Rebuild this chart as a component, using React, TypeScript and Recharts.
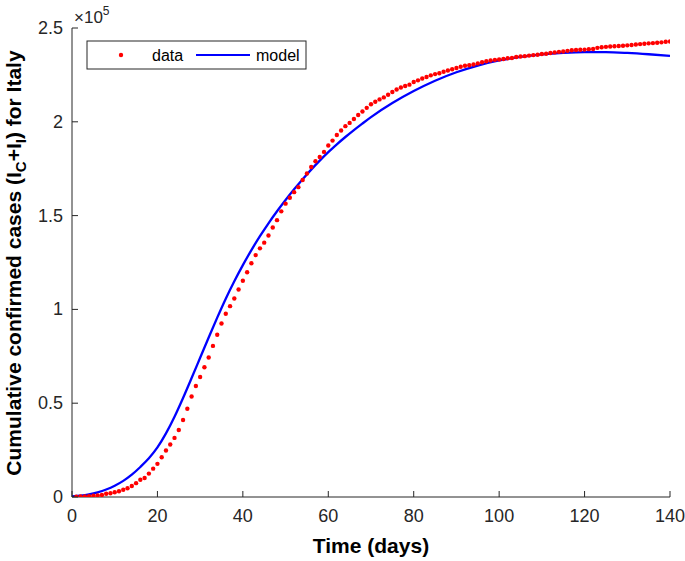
import { ComposedChart, Line, Scatter, XAxis, YAxis } from 'recharts'

// reported cumulative cases, one value per day starting at day 1
const CASES = [
  155, 229, 322, 453, 655, 888, 1128, 1694, 2036, 2502,
  3089, 3858, 4636, 5883, 7375, 9172, 10149, 12462, 15113, 17660,
  21157, 24747, 27980, 31506, 35713, 41035, 47021, 53578, 59138, 63927,
  69176, 74386, 80539, 86498, 92472, 97689, 101739, 105792, 110574, 115242,
  119827, 124632, 128948, 132547, 135586, 139422, 143626, 147577, 152271, 156363,
  159516, 162488, 165155, 168941, 172434, 175925, 178972, 181228, 183957, 187327,
  189973, 192994, 195351, 197675, 199414, 201505, 203591, 205463, 207428, 209328,
  210717, 211938, 213013, 214457, 215858, 217185, 218268, 219070, 219814, 221216,
  222104, 223096, 223885, 224760, 225435, 225886, 226699, 227364, 228006, 228658,
  229327, 229858, 230158, 230555, 231139, 231732, 232248, 232664, 233019, 233197,
  233515, 233836, 234013, 234531, 234801, 234998, 235278, 235561, 235763, 236142,
  236305, 236651, 236989, 237290, 237500, 237828, 238159, 238300, 238400, 238499,
  238720, 238833, 239410, 239706, 239961, 240136, 240310, 240436, 240578, 240760,
  240961, 241184, 241419, 241611, 241819, 241956, 242149, 242363, 242639, 242827,
]

// fitted model curve, read at a coarser step
const MODEL_DAYS = [
  0, 2, 4, 6, 8, 10, 12, 14, 16, 18, 20, 22, 24, 26, 28, 30, 32, 34, 36, 38, 40,
  42, 44, 46, 48, 50, 52, 54, 56, 58, 60, 62, 64, 66, 68, 70,
  75, 80, 85, 90, 95, 100, 105, 110, 115, 120, 125, 130, 135, 140,
]
const MODEL_CASES = [
  300, 700, 1400, 2500, 4000, 6000, 8600, 11900, 16000, 20600, 26400, 33900, 42800,
  52800, 63400, 74200, 85000, 95600, 105700, 115000, 123600,
  131600, 139000, 145900, 152300, 158300, 164000, 169400, 174500, 179300, 183800,
  188000, 191900, 195600, 199100, 202500,
  210000, 216400, 221900, 226400, 230000, 232700, 234600, 235900, 236700, 237100,
  237100, 236700, 236000, 235100,
]

const X_TICKS = [0, 20, 40, 60, 80, 100, 120, 140]
const Y_TICKS = [0, 50000, 100000, 150000, 200000, 250000]

const dataRows = CASES.map((v, i) => ({ day: i + 1, cases: v }))
const modelRows = MODEL_DAYS.map((d, i) => ({ day: d, model: MODEL_CASES[i] }))

const FONT = '"Liberation Sans", Arial, Helvetica, sans-serif'
const AXIS = '#262626'
const W = 685
const H = 561
const TOP = 28
const BOTTOM = 497
const LEFT = 72
const RIGHT = 670

const fmtY = (v: number) => String(v / 100000)

function BottomTick(props: any) {
  const { x, payload } = props
  return (
    <g>
      <line x1={x} x2={x} y1={BOTTOM} y2={BOTTOM - 6} stroke={AXIS} />
      <text x={x} y={BOTTOM + 25} textAnchor="middle" fontSize={18} fill={AXIS} fontFamily={FONT}>
        {payload.value}
      </text>
    </g>
  )
}

function TopTick(props: any) {
  const { x } = props
  return <line x1={x} x2={x} y1={TOP} y2={TOP + 6} stroke={AXIS} />
}

function LeftTick(props: any) {
  const { y, payload } = props
  return (
    <g>
      <line x1={LEFT} x2={LEFT + 6} y1={y} y2={y} stroke={AXIS} />
      <text x={LEFT - 9} y={y + 6} textAnchor="end" fontSize={18} fill={AXIS} fontFamily={FONT}>
        {fmtY(payload.value)}
      </text>
    </g>
  )
}

function RightTick(props: any) {
  const { y } = props
  return <line x1={RIGHT} x2={RIGHT - 6} y1={y} y2={y} stroke={AXIS} />
}

function Dot(props: any) {
  const { cx, cy } = props
  if (cx == null || cy == null) return null
  return <circle cx={cx} cy={cy} r={2.2} fill="#ff0000" />
}

export default function App() {
  return (
    <div style={{ position: 'absolute', left: 0, top: 0, width: W, height: H, background: '#fff' }}>
      <ComposedChart
        width={W}
        height={H}
        margin={{ top: TOP, right: W - RIGHT, left: 0, bottom: 0 }}
      >
        <XAxis
          xAxisId="b"
          dataKey="day"
          type="number"
          domain={[0, 140]}
          ticks={X_TICKS}
          height={H - BOTTOM}
          tickSize={0}
          tickMargin={0}
          tickLine={false}
          axisLine={{ stroke: AXIS }}
          tick={<BottomTick />}
          allowDataOverflow
        />
        <XAxis
          xAxisId="t"
          orientation="top"
          dataKey="day"
          type="number"
          domain={[0, 140]}
          ticks={X_TICKS}
          height={0}
          tickSize={0}
          tickMargin={0}
          tickLine={false}
          axisLine={{ stroke: AXIS }}
          tick={<TopTick />}
        />
        <YAxis
          yAxisId="l"
          type="number"
          domain={[0, 250000]}
          ticks={Y_TICKS}
          width={LEFT}
          tickSize={0}
          tickMargin={0}
          tickLine={false}
          axisLine={{ stroke: AXIS }}
          tick={<LeftTick />}
          allowDataOverflow
        />
        <YAxis
          yAxisId="r"
          orientation="right"
          type="number"
          domain={[0, 250000]}
          ticks={Y_TICKS}
          width={0}
          tickSize={0}
          tickMargin={0}
          tickLine={false}
          axisLine={{ stroke: AXIS }}
          tick={<RightTick />}
        />
        <Line
          xAxisId="b"
          yAxisId="l"
          data={modelRows}
          dataKey="model"
          type="monotone"
          stroke="#0000ff"
          strokeWidth={2.3}
          dot={false}
          isAnimationActive={false}
        />
        <Scatter
          xAxisId="b"
          yAxisId="l"
          data={dataRows}
          dataKey="cases"
          shape={<Dot />}
          isAnimationActive={false}
        />
      </ComposedChart>

      <svg
        width={W}
        height={H}
        style={{ position: 'absolute', left: 0, top: 0, pointerEvents: 'none' }}
        fontFamily={FONT}
      >
        {/* ×10^5 exponent */}
        <text x={74} y={23} fontSize={17} fill={AXIS}>
          ×10
          <tspan fontSize={12} dy={-8}>5</tspan>
        </text>

        {/* legend */}
        <rect x={87} y={41} width={219} height={28} fill="#fff" stroke={AXIS} strokeWidth={1} />
        <circle cx={121} cy={55} r={2.2} fill="#ff0000" />
        <text x={152} y={61} fontSize={16} fill="#000">data</text>
        <line x1={196} x2={250} y1={55} y2={55} stroke="#0000ff" strokeWidth={2} />
        <text x={256} y={61} fontSize={16} fill="#000">model</text>

        {/* axis titles */}
        <text x={371} y={553} textAnchor="middle" fontSize={21} fontWeight="bold" fill="#000">
          Time (days)
        </text>
        <text
          transform="translate(21,263) rotate(-90)"
          textAnchor="middle"
          fontSize={21}
          fontWeight="bold"
          fill="#000"
        >
          Cumulative confirmed cases (I
          <tspan fontSize={15} dy={5}>C</tspan>
          <tspan dy={-5}>+I</tspan>
          <tspan fontSize={15} dy={5}>I</tspan>
          <tspan dy={-5}>) for Italy</tspan>
        </text>
      </svg>
    </div>
  )
}
